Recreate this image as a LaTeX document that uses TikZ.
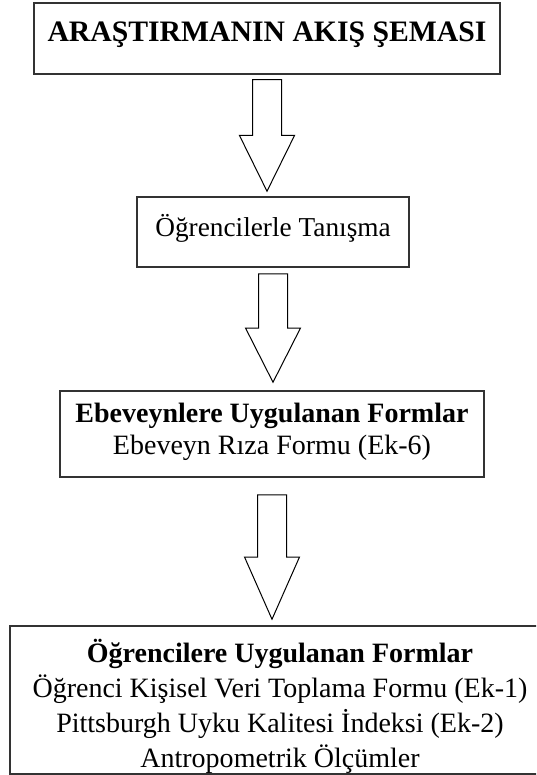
\documentclass[tikz,border=0pt]{standalone}
\usepackage{fontspec}
\setmainfont{Liberation Serif}
\usetikzlibrary{calc}
\newcommand{\flowbox}[7][]{\node[draw,line width=1.5pt,black!80,text=black,align=center,inner sep=0pt,minimum width=#5pt,minimum height=#6pt,#1] (#2) at (#3,#4) {#7};}
\newcommand{\flowarrow}[4]{\draw[line width=1pt] let \p1=($(#1.south)+(0,#3)$), \p2=($(#2.north)-(0,#4)$), \p3=($(\p1)!0.5!(\p2)$) in (\x1-14.5pt,\y1) -- (\x1+14.5pt,\y1) -- (\x1+14.5pt,\y3) -- (\x1+27.5pt,\y3) -- (\x1,\y2) -- (\x1-27.5pt,\y3) -- (\x1-14.5pt,\y3) -- cycle;}

\begin{document}
\begin{tikzpicture}[x=1pt,y=-1pt,font=\fontsize{28}{35}\selectfont]
    \useasboundingbox (0,0) rectangle (536,775); \clip (0,0) rectangle (536,775);
    \flowbox[text height=38.5pt,text depth=32.5pt,font=\fontsize{29.7}{35}\selectfont]{sema}{267}{38.5}{466}{71}{\textbf{ARAŞTIRMANIN AKIŞ ŞEMASI}}
    \flowbox[text height=40pt,text depth=30pt,font=\fontsize{27.3}{35}\selectfont]{tanisma}{273}{232}{272}{70}{Öğrencilerle Tanışma}
    \flowbox[text height=63.5pt,text depth=22.5pt]{ebeveyn}{272}{434}{424}{86}{\textbf{Ebeveynlere Uygulanan Formlar}\\[-3pt] Ebeveyn Rıza Formu (Ek-6)}
    \flowbox[text height=141.5pt,text depth=6.5pt]{ogrenci}{280}{700}{540}{148}{\textbf{Öğrencilere Uygulanan Formlar}\\ Öğrenci Kişisel Veri Toplama Formu (Ek-1)\\ Pittsburgh Uyku Kalitesi İndeksi (Ek-2)\\ Antropometrik Ölçümler}
    \flowarrow{sema}{tanisma}{5}{5}
    \flowarrow{tanisma}{ebeveyn}{6}{8}
    \flowarrow{ebeveyn}{ogrenci}{17}{6}
\end{tikzpicture}
\end{document}
